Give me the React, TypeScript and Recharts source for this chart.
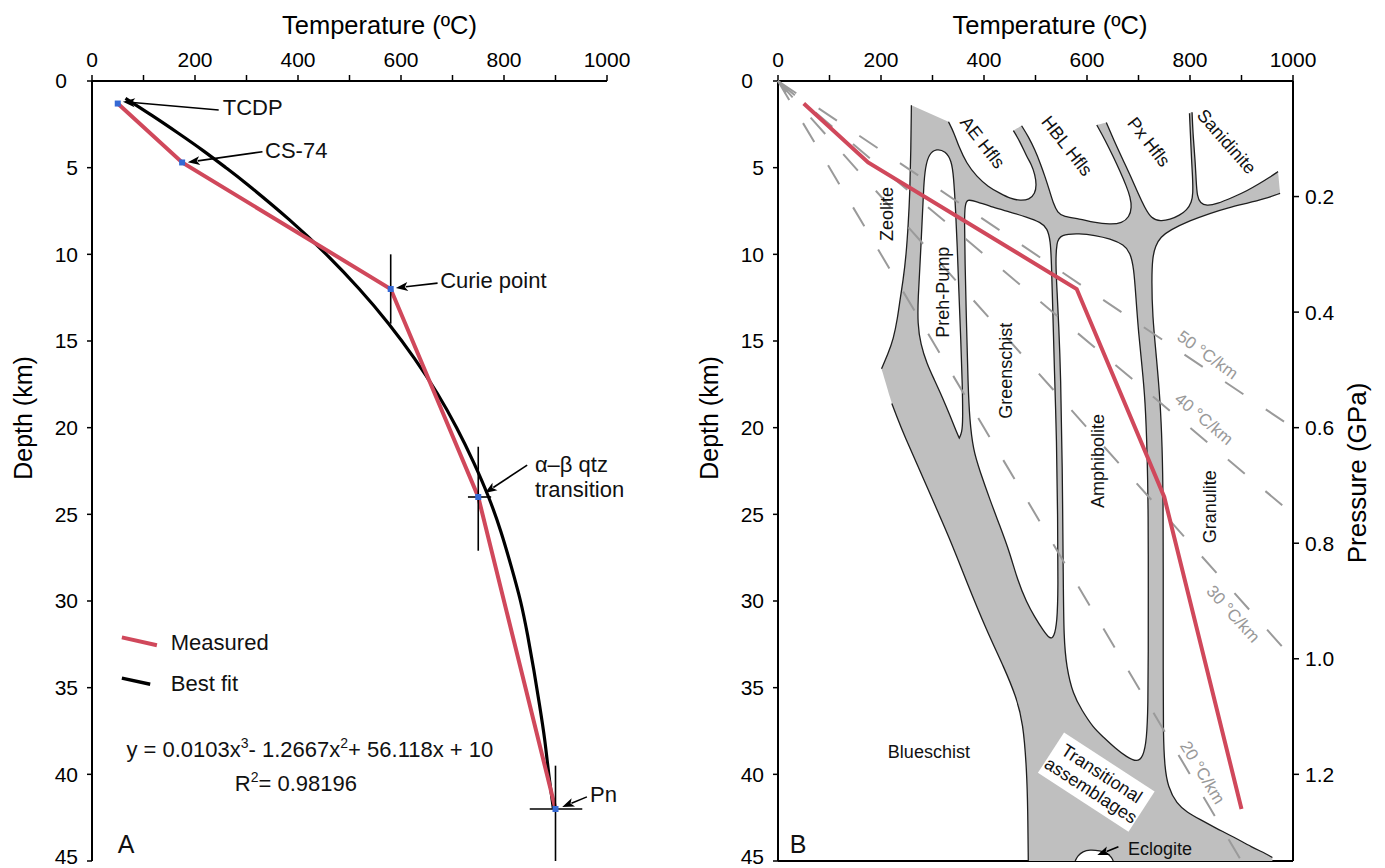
import React from 'react';
import { ComposedChart, Scatter, XAxis, YAxis, ReferenceLine } from 'recharts';

const FONT = "'Liberation Sans', Arial, Helvetica, sans-serif";
const RED = '#d0485b';
const GRAY_FILL = '#bfbfbf';
const OUTLINE = '#1e1e1e';
const DASH = '#9a9a9a';

type P = [number, number];

// ---------- axes ----------
const temperatureTicks = [0, 100, 200, 300, 400, 500, 600, 700, 800, 900, 1000];
const depthTicks = [0, 5, 10, 15, 20, 25, 30, 35, 40, 45];
const pressureTicks = [0.2, 0.4, 0.6, 0.8, 1.0, 1.2];

// ---------- measured geotherm (both panels) ----------
const measuredTemp = [50, 175, 580, 750, 900];
const measuredDepth = [1.3, 4.7, 12, 24, 42];

// ---------- best-fit curve ----------
const fitDepth = [1, 2, 3, 4, 5, 6, 8, 10, 12, 14, 16, 18, 20, 22, 24, 26, 28, 30, 32, 34, 36, 38, 40, 42];
const fitTemp = [65, 117, 167, 215, 260, 303, 383, 455, 519, 576, 626, 670, 708, 741, 770, 794, 814, 832, 846, 858, 869, 879, 887, 896];

// ---------- error bars (index into measured points) ----------
const errorIndex = [2, 3, 4];
const errorTempRange: P[] = [[580, 580], [730, 775], [850, 952]];
const errorDepthRange: P[] = [[10, 14], [21.1, 27.1], [39.5, 45]];

// ---------- panel A annotations ----------
const annotationA = [
  { t: 254, d: 1.96, text: 'TCDP' },
  { t: 336, d: 4.44, text: 'CS-74' },
  { t: 676, d: 11.94, text: 'Curie point' },
  { t: 860, d: 22.56, text: 'α–β qtz' },
  { t: 860, d: 24.0, text: 'transition' },
  { t: 967, d: 41.6, text: 'Pn' },
  { t: 153, d: 32.83, text: 'Measured' },
  { t: 153, d: 35.2, text: 'Best fit' },
];
const arrowsA: [P, P][] = [
  [[246, 1.67], [60, 1.19]],
  [[331, 4.08], [186, 4.69]],
  [[671, 11.66], [590, 11.94]],
  [[845, 22.16], [763, 23.77]],
  [[961, 41.3], [913, 41.88]],
];
const legendMeasured: P[] = [[58, 32.1], [126, 32.55]];
const legendFit: P[] = [[58, 34.45], [113, 34.8]];
const equationAnchor = [{ t: 423, d: 39.0 }];
const r2Anchor = [{ t: 396, d: 40.97 }];
const panelTagA = [{ t: 50, d: 44.55, text: 'A' }];

// ---------- panel B: facies field boundaries (T °C, depth km) ----------
const chain1: P[] = [[331, 2.35], [342, 3.0], [351, 3.78], [366, 4.75], [386, 5.52], [408, 6.1], [431, 6.48], [452, 6.8], [470, 6.9], [488, 6.85], [499, 6.5], [502, 6.0], [499, 5.4], [492, 4.8], [483, 4.37], [470, 3.5], [457, 2.86]];
const chain2: P[] = [[473, 2.58], [486, 3.2], [499, 3.98], [510, 4.8], [518.5, 5.52], [527, 6.3], [534.6, 7.06], [543, 7.6], [554, 7.83], [586, 7.95], [612, 8.15], [645, 8.28], [668, 8.2], [682, 7.85], [687, 7.3], [684, 6.7], [677, 6.1], [664, 5.2], [651, 4.37], [635, 3.4], [619, 2.54]];
const chain3: P[] = [[637.5, 2.4], [652, 3.4], [670, 4.56], [685, 5.5], [699, 6.48], [712, 7.3], [725, 7.95], [743, 8.1], [761, 8.0], [780, 7.75], [794, 7.44], [803, 7.0], [806, 6.5], [805, 5.5], [803, 4.56], [801, 3.2], [799, 1.86]];
const chain4: P[] = [[804, 1.8], [806, 3.2], [810, 4.56], [812, 5.8], [814, 6.67], [820, 7.05], [832, 7.2], [852, 7.1], [884, 6.7], [910, 6.35], [936, 5.9], [955, 5.55], [971, 5.23]];
const chain5: P[] = [[975, 6.48], [945, 6.8], [910, 7.06], [875, 7.3], [839, 7.63], [800, 8.05], [761, 8.6], [743, 9.0], [733, 9.5], [727, 10.2], [725.6, 11.5], [727, 13.5], [735, 16], [742, 18.4], [746, 21], [748, 24.2], [748, 29.4], [748, 34], [748, 37.8], [751, 39.6], [757, 40.7], [774, 41.7], [795, 42.2], [819, 42.6], [850, 43.1], [884, 43.6], [920, 44.2], [949, 44.6], [960, 44.8]];
const bottomCut: P[] = [[960, 45], [486, 45]];
const chain6: P[] = [[486, 45], [485, 42], [483, 39.8], [476, 37], [462, 35.5], [440, 33.9], [405, 31.7], [365, 28.8], [335, 26.5], [289, 23.4], [243, 20.3], [230, 19.3], [221, 18.6]];
const chain7: P[] = [[201, 16.6], [214, 15.7], [224, 14.9], [232, 13.7], [237, 12.6], [243, 11.5], [249, 10], [253, 8.2], [256, 6.5], [258, 4], [259, 1.4]];

const prehPumpField: P[] = [[308, 3.9], [325, 4.05], [337, 4.6], [341, 5.5], [345, 7.5], [348, 9.5], [351, 12], [355, 15], [358, 17.5], [359, 19.6], [357, 20.3], [352, 20.6], [352, 20.6], [352, 20.6], [346, 20.2], [334, 19.3], [320, 18.3], [303, 17.2], [289, 16.3], [277, 15.2], [271, 14], [272, 12.5], [276, 10.5], [280, 8], [283, 6], [286, 5], [293, 4.2]];
const greenschistField: P[] = [[363, 7.2], [367, 6.8], [385, 6.95], [418, 7.3], [450, 7.55], [483, 7.85], [510, 8.15], [523, 8.5], [529, 9.2], [531, 10.5], [533, 12.6], [537, 17], [541, 20.7], [543, 25], [544, 29.4], [542, 31.2], [536, 32.1], [528, 32.2], [515, 31.7], [498, 30.9], [483, 30.1], [465, 28.8], [450, 27.2], [430, 25.6], [412, 24.2], [392, 22.5], [379, 21.3], [372, 19.5], [369, 17.5], [366, 14], [363, 10.3], [362, 8]];
const amphiboliteField: P[] = [[539, 10.5], [541, 9.3], [548, 8.85], [586, 8.8], [615, 8.9], [645, 9.1], [672, 9.45], [684, 9.9], [691, 10.8], [695, 12.5], [700, 14.5], [707, 16.5], [713, 18.4], [717, 21.5], [719, 25], [719, 29.4], [719, 33], [718.5, 36], [716, 38], [709, 39], [697, 39.3], [677, 39], [655, 38.5], [630, 37.8], [612, 37.3], [590, 36.3], [573, 35.4], [560, 33.8], [555, 32.1], [554, 29], [552, 22], [549, 17], [545, 14], [542, 12.2]];
const eclogiteField: P[] = [[577, 45], [582, 44.7], [592, 44.45], [605, 44.35], [625, 44.4], [640, 44.55], [648, 44.8], [651, 45]];

// geotherms: end points of the dashed lines from the origin
const geotherm50: P[] = [[0, 0], [1000, 20]];
const geotherm40: P[] = [[0, 0], [1000, 25]];
const geotherm30: P[] = [[0, 0], [1000, 33.33]];
const geotherm20: P[] = [[0, 0], [900, 45]];

const fieldLabels = [
  { t: 211, d: 7.67, text: 'Zeolite', rot: -90 },
  { t: 320, d: 12.18, text: 'Preh-Pump', rot: -90 },
  { t: 442, d: 16.72, text: 'Greenschist', rot: -90 },
  { t: 622, d: 21.92, text: 'Amphibolite', rot: -90 },
  { t: 839, d: 24.56, text: 'Granulite', rot: -90 },
  { t: 293, d: 38.7, text: 'Blueschist', rot: 0 },
  { t: 397, d: 3.55, text: 'AE Hfls', rot: 52 },
  { t: 561, d: 3.75, text: 'HBL Hfls', rot: 52 },
  { t: 720, d: 3.52, text: 'Px Hfls', rot: 52 },
  { t: 871, d: 3.5, text: 'Sanidinite', rot: 49 },
  { t: 742, d: 44.3, text: 'Eclogite', rot: 0 },
];
const geothermLabels = [
  { t: 834, d: 15.81, text: '50 °C/km', rot: 36 },
  { t: 827, d: 19.5, text: '40 °C/km', rot: 40 },
  { t: 883.5, d: 30.76, text: '30 °C/km', rot: 48 },
  { t: 824, d: 39.9, text: '20 °C/km', rot: 59 },
];
const transitionalLabel = [{ t: 618, d: 40.45, rot: 33, lines: ['Transitional', 'assemblages'] }];
const eclogiteArrow: [P, P] = [[661, 44.18], [620, 44.66]];
const panelTagB = [{ t: 23, d: 44.55, text: 'B' }];

// ---------- helpers ----------
const pts = (arr: P[]) => arr.map(([t, d]) => ({ t, d }));
const triple = (c: P[]): P[] => [c[0], c[0], ...c, c[c.length - 1], c[c.length - 1]];
const measuredPts = measuredTemp.map((t, i) => ({ t, d: measuredDepth[i] }));
const fitPts = fitDepth.map((d, i) => ({ t: fitTemp[i], d }));
const grayRegion = pts([chain1, chain2, chain3, chain4, chain5, bottomCut, chain6, chain7].flatMap(triple));
const outlineChains = [chain1, chain2, chain3, chain4, chain5, chain6, chain7];

const noShape = () => <g />;

function curve(key: string, data: any[], style: any, joint: string = 'linear') {
  return (
    <Scatter
      key={key}
      data={data}
      shape={noShape}
      fill="none"
      line={style}
      lineJointType={joint as any}
      isAnimationActive={false}
    />
  );
}

function ArrowGlyph({ points, color, head = 12, half = 4.5 }: any) {
  if (!points || points.length < 2) return <g />;
  const a = points[0];
  const b = points[points.length - 1];
  const ang = Math.atan2(b.y - a.y, b.x - a.x);
  const bx = b.x - head * Math.cos(ang);
  const by = b.y - head * Math.sin(ang);
  const px = -Math.sin(ang) * half;
  const py = Math.cos(ang) * half;
  return (
    <g>
      <line x1={a.x} y1={a.y} x2={bx + 2 * Math.cos(ang)} y2={by + 2 * Math.sin(ang)} stroke={color} strokeWidth={1.6} />
      <polygon points={`${b.x},${b.y} ${bx + px},${by + py} ${bx + 3 * Math.cos(ang)},${by + 3 * Math.sin(ang)} ${bx - px},${by - py}`} fill={color} />
    </g>
  );
}

function arrow(key: string, seg: [P, P], color = '#000') {
  return (
    <Scatter
      key={key}
      data={pts(seg)}
      shape={noShape}
      fill="none"
      isAnimationActive={false}
      line={(lp: any) => <ArrowGlyph points={lp.points} color={color} />}
    />
  );
}

function textShape(size: number, color: string, anchor: string, baseline: string) {
  return (props: any) => {
    const { cx, cy, payload } = props;
    if (cx == null || cy == null) return <g />;
    const rot = payload.rot || 0;
    return (
      <text
        x={cx}
        y={cy}
        textAnchor={anchor}
        dominantBaseline={baseline}
        transform={rot ? `rotate(${rot} ${cx} ${cy})` : undefined}
        fontFamily={FONT}
        fontSize={size}
        fill={color}
      >
        {payload.text}
      </text>
    );
  };
}

function texts(key: string, data: any[], size: number, color: string, anchor = 'middle', baseline = 'central') {
  return <Scatter key={key} data={data} shape={textShape(size, color, anchor, baseline)} isAnimationActive={false} />;
}

const equationShape = (props: any) => {
  const { cx, cy } = props;
  return (
    <text x={cx} y={cy} textAnchor="middle" fontFamily={FONT} fontSize={22} fill="#111">
      y = 0.0103x<tspan dy={-9} fontSize={14}>3</tspan>
      <tspan dy={9}>- 1.2667x</tspan>
      <tspan dy={-9} fontSize={14}>2</tspan>
      <tspan dy={9}>+ 56.118x + 10</tspan>
    </text>
  );
};
const r2Shape = (props: any) => {
  const { cx, cy } = props;
  return (
    <text x={cx} y={cy} textAnchor="middle" fontFamily={FONT} fontSize={22} fill="#111">
      R<tspan dy={-9} fontSize={14}>2</tspan>
      <tspan dy={9}>= 0.98196</tspan>
    </text>
  );
};
const squareShape = (props: any) => <rect x={props.cx - 3} y={props.cy - 3} width={6} height={6} fill="#3569d4" />;
const originArrowShape = (props: any) => {
  const { cx, cy } = props;
  return <polygon points={`${cx + 2},${cy + 2} ${cx + 11},${cy + 8} ${cx + 7},${cy + 13}`} fill={DASH} />;
};
const transitionalShape = (props: any) => {
  const { cx, cy, payload } = props;
  return (
    <g transform={`rotate(${payload.rot} ${cx} ${cy})`}>
      <rect x={cx - 54} y={cy - 24} width={108} height={48} fill="#fff" />
      <text x={cx} y={cy - 4} textAnchor="middle" fontFamily={FONT} fontSize={18} fill="#111">{payload.lines[0]}</text>
      <text x={cx} y={cy + 16} textAnchor="middle" fontFamily={FONT} fontSize={18} fill="#111">{payload.lines[1]}</text>
    </g>
  );
};

const TICK_FONT = 21;
const tickStyle = { fill: '#000', fontSize: TICK_FONT, fontFamily: FONT };
const axisLineStyle = { stroke: '#000', strokeWidth: 2 };
const tickLineStyle = { stroke: '#000', strokeWidth: 1.5 };

const depthTick = (props: any) => {
  const { x, y, payload } = props;
  const v = payload.value;
  const dx = v === 0 ? -11 : 0;
  const dy = v === 45 ? -4 : 0;
  return (
    <text x={x + dx} y={y + dy} dy="0.355em" textAnchor="end" fontFamily={FONT} fontSize={TICK_FONT} fill="#000">
      {v}
    </text>
  );
};

function tempAxis(titleDx: number) {
  return (
    <XAxis
      type="number"
      dataKey="t"
      domain={[0, 1000]}
      ticks={temperatureTicks}
      interval={0}
      orientation="top"
      height={40}
      tickSize={6}
      tickMargin={8}
      tick={tickStyle}
      axisLine={axisLineStyle}
      tickLine={tickLineStyle}
      tickFormatter={(v: number) => (v % 200 === 0 ? String(v) : '')}
      label={{
        content: (p: any) => {
          const vb = p.viewBox || { x: 92, width: 515 };
          return (
            <text x={vb.x + vb.width / 2 + titleDx} y={34} textAnchor="middle" fontFamily={FONT} fontSize={25.5} fill="#000">
              Temperature (ºC)
            </text>
          );
        },
      }}
    />
  );
}

function depthAxis() {
  return (
    <YAxis
      type="number"
      dataKey="d"
      domain={[0, 45]}
      reversed
      ticks={depthTicks}
      interval={0}
      width={82}
      tickSize={5}
      tickMargin={9}
      tick={depthTick}
      axisLine={axisLineStyle}
      tickLine={tickLineStyle}
      label={{
        content: (p: any) => {
          const vb = p.viewBox || { x: 10 };
          const x = vb.x + 13;
          return (
            <text x={x} y={418} transform={`rotate(-90 ${x} 418)`} textAnchor="middle" dominantBaseline="central" fontFamily={FONT} fontSize={25} fill="#000">
              Depth (km)
            </text>
          );
        },
      }}
    />
  );
}

function PanelA() {
  const bars: any[] = [];
  errorIndex.forEach((mi, k) => {
    const t = measuredTemp[mi];
    const d = measuredDepth[mi];
    bars.push(curve(`ev${k}`, pts([[t, errorDepthRange[k][0]], [t, errorDepthRange[k][1]]]), { stroke: '#000', strokeWidth: 1.6, fill: 'none' }));
    if (errorTempRange[k][0] !== errorTempRange[k][1]) {
      bars.push(curve(`eh${k}`, pts([[errorTempRange[k][0], d], [errorTempRange[k][1], d]]), { stroke: '#000', strokeWidth: 1.6, fill: 'none' }));
    }
  });
  return (
    <ComposedChart width={686} height={868} margin={{ top: 41, right: 79, bottom: 7, left: 10 }}>
      {tempAxis(30)}
      {depthAxis()}
      {curve('fit', fitPts, { stroke: '#000', strokeWidth: 3.2, fill: 'none' }, 'natural')}
      {curve('measured', measuredPts, { stroke: RED, strokeWidth: 4, fill: 'none' })}
      {bars}
      <Scatter key="pts" data={measuredPts} shape={squareShape} isAnimationActive={false} />
      {arrowsA.map((s, i) => arrow(`a${i}`, s))}
      {curve('legM', pts(legendMeasured), { stroke: RED, strokeWidth: 4, fill: 'none' })}
      {curve('legF', pts(legendFit), { stroke: '#000', strokeWidth: 3.5, fill: 'none' })}
      {texts('annA', annotationA, 22, '#111', 'start', 'alphabetic')}
      <Scatter key="eq" data={equationAnchor} shape={equationShape} isAnimationActive={false} />
      <Scatter key="r2" data={r2Anchor} shape={r2Shape} isAnimationActive={false} />
      {texts('tagA', panelTagA, 25, '#111', 'start', 'alphabetic')}
    </ComposedChart>
  );
}

function PanelB() {
  return (
    <ComposedChart width={699} height={868} margin={{ top: 41, right: 0, bottom: 7, left: 10 }}>
      {tempAxis(14.5)}
      {depthAxis()}
      <YAxis
        yAxisId="p"
        type="number"
        dataKey="p"
        orientation="right"
        domain={[0, 1.35]}
        reversed
        ticks={pressureTicks}
        interval={0}
        width={92}
        tickSize={6}
        tickMargin={6}
        tick={tickStyle}
        axisLine={axisLineStyle}
        tickLine={tickLineStyle}
        tickFormatter={(v: number) => v.toFixed(1)}
        label={{
          content: (p: any) => {
            const vb = p.viewBox || { x: 607 };
            const x = vb.x + 64;
            return (
              <text x={x} y={473} transform={`rotate(-90 ${x} 473)`} textAnchor="middle" dominantBaseline="central" fontFamily={FONT} fontSize={26} fill="#000">
                Pressure (GPa)
              </text>
            );
          },
        }}
      />
      <Scatter key="paxis" yAxisId="p" data={[{ t: 0, p: 0 }, { t: 1000, p: 1.35 }]} shape={noShape} isAnimationActive={false} />
      {curve('gray', grayRegion, { fill: GRAY_FILL, stroke: 'none' }, 'basis')}
      {outlineChains.map((c, i) => curve(`ol${i}`, pts(c), { stroke: OUTLINE, strokeWidth: 1.3, fill: 'none' }, 'basis'))}
      {curve('preh', pts(prehPumpField), { fill: '#fff', stroke: OUTLINE, strokeWidth: 1.3 }, 'basisClosed')}
      {curve('green', pts(greenschistField), { fill: '#fff', stroke: OUTLINE, strokeWidth: 1.3 }, 'basisClosed')}
      {curve('amph', pts(amphiboliteField), { fill: '#fff', stroke: OUTLINE, strokeWidth: 1.3 }, 'basisClosed')}
      {curve('eclo', pts(eclogiteField), { fill: '#fff', stroke: OUTLINE, strokeWidth: 1.3 }, 'basis')}
      {[geotherm50, geotherm40, geotherm30, geotherm20].map((g, i) =>
        curve(`gt${i}`, pts(g), { stroke: DASH, strokeWidth: 2, strokeDasharray: '22 27', fill: 'none' })
      )}
      <Scatter key="origin" data={[{ t: 0, d: 0 }]} shape={originArrowShape} isAnimationActive={false} />
      {curve('measuredB', measuredPts, { stroke: RED, strokeWidth: 4, fill: 'none' })}
      {texts('fields', fieldLabels, 18, '#111')}
      {texts('gtl', geothermLabels, 17, '#999')}
      <Scatter key="trans" data={transitionalLabel} shape={transitionalShape} isAnimationActive={false} />
      {arrow('ecloArrow', eclogiteArrow)}
      {texts('tagB', panelTagB, 25, '#111', 'start', 'alphabetic')}
      <ReferenceLine y={45} stroke="#000" strokeWidth={2} />
    </ComposedChart>
  );
}

export default function App() {
  return (
    <div style={{ position: 'absolute', left: 0, top: 0, width: 1385, height: 868, background: '#fff' }}>
      <div style={{ position: 'absolute', left: 0, top: 0 }}>
        <PanelA />
      </div>
      <div style={{ position: 'absolute', left: 686, top: 0 }}>
        <PanelB />
      </div>
    </div>
  );
}
